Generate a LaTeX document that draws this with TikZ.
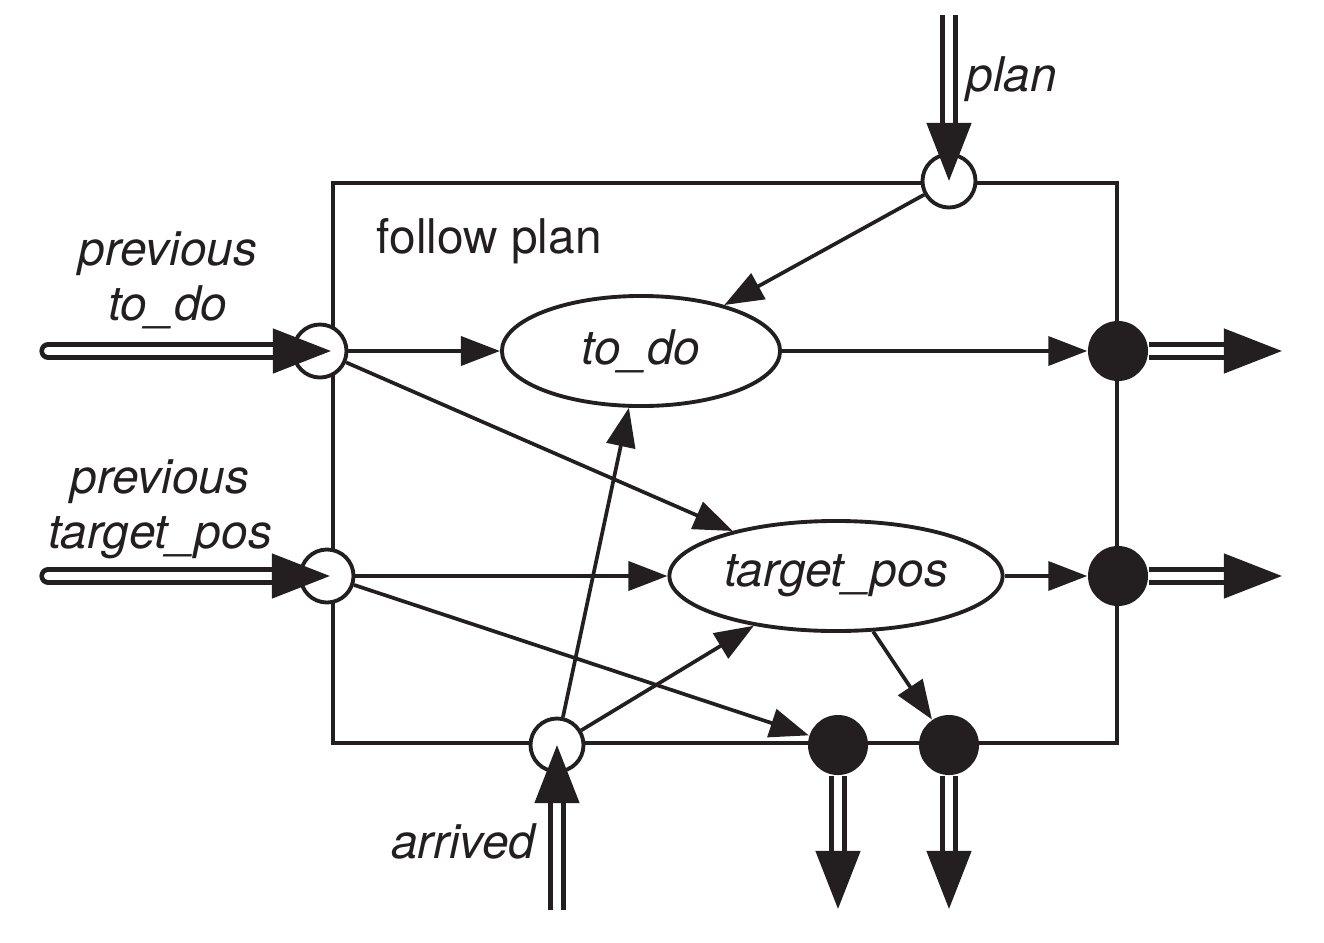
\documentclass[tikz,border=0pt]{standalone}
\usepackage{fontspec}
\setmainfont{TeX Gyre Heros}
\usetikzlibrary{arrows.meta,shapes.geometric}
\definecolor{ink}{RGB}{35,31,32}
\tikzset{
  inport/.style={circle, draw=ink, line width=1.1pt, fill=white, minimum size=0.53cm, inner sep=0pt},
  outport/.style={circle, fill=ink, minimum size=0.6cm, inner sep=0pt},
  state/.style={ellipse, draw=ink, line width=1.1pt, inner sep=0pt, minimum height=1.1cm,
    text=ink, font=\fontsize{13.6}{15.6}\selectfont\itshape},
  flow/.style={draw=ink, line width=1.05pt, -{Triangle[length=0.39cm,width=0.29cm]}},
  chan/.style={draw=ink, line width=1.3pt, double=white, double distance=2.3pt,
    -{Triangle[length=0.58cm,width=0.44cm]}},
  lbl/.style={inner sep=0pt, text=ink, font=\fontsize{13.6}{15.6}\selectfont\itshape, align=center},
}
\begin{document}
\begin{tikzpicture}[x=0.01cm, y=-0.01cm]
\useasboundingbox (0,0) rectangle (1324,942);
\draw[ink, line width=1.25pt] (333,183) rectangle (1117,743);
\node[lbl, font=\fontsize{13.6}{15.6}\selectfont, anchor=base west] (Title) at (376,253) {follow plan};
% ports
\node[inport] (P_in_plan) at (949,181) {};
\node[inport] (P_in_todo) at (320,351) {};
\node[inport] (P_in_pos) at (327,576) {};
\node[inport] (P_in_arr) at (557,745) {};
\node[outport] (P_out_todo) at (1118,351) {};
\node[outport] (P_out_pos) at (1118,576) {};
\node[outport] (P_out_b1) at (838,745) {};
\node[outport] (P_out_b2) at (949,745) {};
% states
\node[state, minimum width=2.78cm] (S_todo) at (641,351) {to\_do};
\node[state, minimum width=3.33cm] (S_pos) at (836,576) {target\_pos};
% flows
\draw[flow] (P_in_plan) -- (S_todo);
\draw[flow] (P_in_todo) -- (S_todo);
\draw[flow] (P_in_todo) -- (S_pos);
\draw[flow] (S_todo) -- (P_out_todo);
\draw[flow] (P_in_pos) -- (S_pos);
\draw[flow] (P_in_pos) -- (P_out_b1);
\draw[flow] (S_pos) -- (P_out_pos);
\draw[flow] (S_pos) -- (P_out_b2);
\draw[flow] (P_in_arr) -- (S_todo);
\draw[flow] (P_in_arr) -- (S_pos);
% channels
\coordinate (C_plan) at (949,15);
\coordinate (C_todo) at (48,351);
\coordinate (C_pos) at (48,576);
\coordinate (C_arr) at (557,910);
\coordinate (C_out_todo) at (1282,351);
\coordinate (C_out_pos) at (1282,576);
\coordinate (C_out_b1) at (838,909);
\coordinate (C_out_b2) at (949,909);
\draw[chan] (C_plan) -- (P_in_plan.center);
\draw[chan, line cap=round] (C_todo) -- ([xshift=0.11cm]P_in_todo.center);
\draw[chan, line cap=round] (C_pos) -- ([xshift=0.03cm]P_in_pos.center);
\draw[chan] (C_arr) -- (P_in_arr.center);
\draw[chan] (P_out_todo) -- (C_out_todo);
\draw[chan] (P_out_pos) -- (C_out_pos);
\draw[chan] (P_out_b1) -- (C_out_b1);
\draw[chan] (P_out_b2) -- (C_out_b2);
% labels
\node[lbl, anchor=base west] (L_plan) at (966,91) {plan};
\node[lbl, anchor=base] (L_todo) at (168,320) {previous\\to\_do};
\node[lbl, anchor=base] (L_pos) at (160,548) {previous\\target\_pos};
\node[lbl, anchor=base east] (L_arr) at (536,858) {arrived};
\end{tikzpicture}
\end{document}
